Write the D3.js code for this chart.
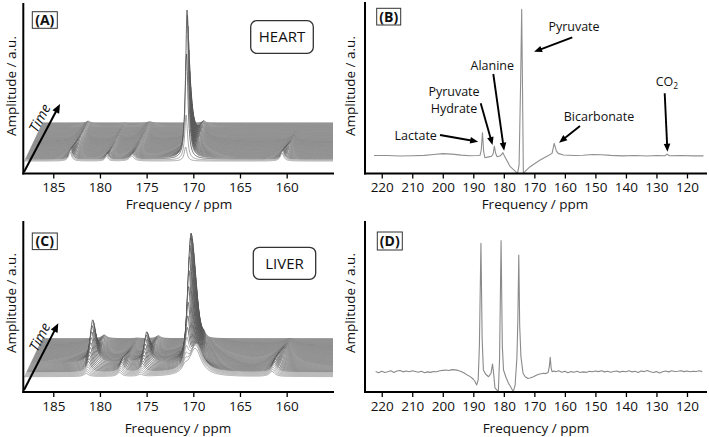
<!DOCTYPE html>
<html><head><meta charset="utf-8">
<script src="https://cdn.jsdelivr.net/npm/d3@7"></script>
<style>body{margin:0;background:#fff}svg{font-family:"Open Sans",sans-serif}</style>
</head><body><svg id="c" width="709" height="437"></svg>
<script>
// ---------------- DATA ----------------
const waterfallTicks = [185, 180, 175, 170, 165, 160];
const spectrumTicks = [220, 210, 200, 190, 180, 170, 160, 150, 140, 130, 120];

// Heart waterfall: peak centres (ppm), half-widths (ppm), amplitude per time step (front -> back)
const heartPeakPpm = [183.2, 179.3, 176.6, 170.82, 160.5];
const heartPeakHw = [0.2, 0.18, 0.3, 0.18, 0.22];
const heartLactate = [9,10,10.5,10.5,10,9.5,9,8.5,8,7.5,7,6.5,6,5.6,5.2,4.9,4.6,4.3,4,3.8,3.6,3.4,3.2,3,2.9,2.8,2.7,2.6,2.5,2.4,2.3,2.2,2.1,2,2,1.9,1.9,1.8,1.8,1.8];
const heartHydrate = [5,5.5,5.5,5,4.5,4,3.5,3.1,2.8,2.5,2.2,2,1.8,1.6,1.4,1.3,1.2,1.1,1,0.9,0.8,0.8,0.7,0.7,0.6,0.6,0.5,0.5,0.5,0.4,0.4,0.4,0.3,0.3,0.3,0.3,0.3,0.2,0.2,0.2];
const heartAlanine = [5,5.5,5.5,5,4.6,4.2,3.8,3.5,3.2,3,2.8,2.6,2.4,2.3,2.2,2.1,2,1.9,1.8,1.8,1.7,1.7,1.6,1.6,1.5,1.5,1.5,1.4,1.4,1.4,1.3,1.3,1.3,1.2,1.2,1.2,1.2,1.1,1.1,1.1];
const heartPyruvate = [14,45,105,148,142,130,117,104,92,81,71,63,56,49,43,38,33,29,26,23,20,18,16,14,12.5,11,10,9,8,7,6.3,5.6,5,4.5,4,3.6,3.2,2.9,2.6,2.3];
const heartBicarb = [8,9,9,8.5,8,7.5,7,6.5,6,5.5,5,4.5,4,3.5,3,2.6,2.2,1.8,1.5,1.2,1,0.8,0.6,0.5,0.4,0.3,0.2,0.2,0.1,0.1,0.1,0,0,0,0,0,0,0,0,0];

// Liver waterfall
const liverPeakPpm = [181.47, 177.9, 175.68, 170.9, 169.8, 161.56];
const liverPeakHw = [0.32, 0.3, 0.3, 0.3, 0.8, 0.35];
const liverLactate = [3,4,5,6.5,8,10,12,14.5,17,20,24,28,33,38,43,41,38,34,30,26,23,20,17.5,15,13,11.5,10,9,8,7.2,6.5,6,5.5,5.1,4.8,4.5,4.2,4,3.8,3.6];
const liverHydrate = [4,5,6,7,8,9,9.8,10.3,10.6,10.4,10,9.4,8.8,8.2,7.6,7,6.4,5.8,5.2,4.7,4.2,3.8,3.4,3,2.7,2.4,2.1,1.9,1.7,1.5,1.3,1.2,1.1,1,0.9,0.8,0.7,0.6,0.5,0.5];
const liverAlanine = [2,3,4,5,6,7.5,9,11,13,15.5,18,21,25,28,30.5,29,27,24,21,18.5,16,14,12,10.5,9,8,7,6.3,5.7,5.2,4.8,4.4,4.1,3.8,3.6,3.4,3.2,3,2.9,2.8];
const liverPyruvate = [5,8,12,18,26,36,48,62,78,94,108,119,126,130,129,126,122,117,111,105,98,91,84,77,70,63,56,50,44,39,34,30,26,23,20,17,15,13,11,10];
const liverEarly = [28,30,30,29,27,24,20,16,12,9,6,4,2.5,1.5,1,0.5,0.3,0.2,0.1,0,0,0,0,0,0,0,0,0,0,0,0,0,0,0,0,0,0,0,0,0];
const liverBicarb = [5,6,7,8,8.5,9,9.5,10,10,10,10,9.8,9.5,9.2,9,8.6,8.2,7.8,7.4,7,6.5,6,5.5,5,4.5,4,3.5,3,2.6,2.2,1.9,1.6,1.3,1.1,0.9,0.7,0.5,0.4,0.3,0.2];

// Heart single spectrum [ppm, amplitude]
const heartSpectrum = [[222.5,0.3],[218,0.3],[214,0],[210,0.2],[206,0.4],[203,1.0],[200,1.6],[197,1.3],[194,0.6],[191,0.2],[188.8,0.3],[187.8,0.5],[187.4,4],[187.0,15.9],[186.6,3],[186.2,-1.2],[185,-0.6],[184,-0.2],[183.5,1.5],[183.1,6.8],[182.7,2],[182.2,-0.5],[181.3,0],[180.7,1],[180.3,2.3],[179.8,0],[177.9,-7.3],[175.5,-11.8],[175,-6],[174.5,50],[174.15,100],[173.9,50],[173.6,-11.8],[173,-10.5],[171.4,-7.3],[168.1,-2.7],[165.4,0.3],[164.2,1.8],[163.5,8.6],[162.8,3.5],[162.2,1.8],[160.5,0.7],[157,0.3],[154,0.5],[151,1.0],[148,0.9],[145,0.4],[141,0.1],[137,0.3],[133,0],[130,0.3],[127.2,0.2],[126.5,1.3],[125.8,0.2],[122,0.3],[118,0.1],[114.6,0.1]];

// Liver single spectrum [ppm, amplitude]
const liverSpectrum = [[222,0.3],[221,-0.5],[220,0.6],[219,-0.4],[218,0.2],[217,0.9],[216,-0.3],[215,0.7],[214,1.2],[213,0.1],[212,0.8],[211,0.2],[210,1.0],[209,0.4],[208,-0.2],[207,0.5],[206,-0.6],[205,0.1],[204,-0.3],[203,0.4],[202,0.2],[201,0.9],[200,1.2],[199,1.5],[198,1.1],[197,1.8],[196,1.6],[195,1.2],[194,0.4],[193,-0.8],[192,-2.2],[191,-3.5],[190,-5.5],[189.5,-7],[188.9,-9.8],[188.4,-6],[188,20],[187.5,97.5],[187.1,25],[186.7,1.5],[186,-1.5],[185,-3.6],[184.2,-1],[183.7,6.1],[183.3,-2],[182.9,-12.1],[181.8,-14.9],[181.4,10],[180.9,99.5],[180.5,20],[180.1,1.5],[179.3,-4],[178.5,-8.3],[177.6,-12],[176.9,-14.9],[176.3,-10],[175.7,11.6],[175.4,40],[175.1,88.6],[174.8,35],[174.4,11.6],[173.7,-1],[173.0,-3.6],[172.2,-4.8],[171.4,-4.5],[170.3,-3.6],[169.2,-2.3],[168.2,-1.5],[167.0,-1],[166.2,-1.2],[165.5,-0.4],[165.1,4],[164.8,11.1],[164.5,3],[164.2,0.3],[163.5,0.8],[163,0.2],[162,0.9],[161,-0.2],[160,0.5],[159,-0.6],[158,0.3],[157,-0.2],[156,0.6],[155,-0.4],[154,0.1],[153,-0.3],[152,0.5],[151,0.2],[150,0.8],[149,0.3],[148,1.0],[147,0.1],[146,0.6],[145,-0.2],[144,0.4],[143,0.7],[142,-0.1],[141,0.5],[140,0.2],[139,0.9],[138,0.1],[137,0.6],[136,-0.3],[135,0.8],[134,0.3],[133,1.1],[132,0.2],[131,-0.4],[130,0.3],[129,-0.8],[128,0.2],[127,0.7],[126,0.1],[125,0.9],[124,0.4],[123,0.6],[122,1.0],[121,0.3],[120,0.8],[119,0.2],[118,0.6],[117,0.4],[116,0.9],[115,0.3]];

const annotationLabels = ["Pyruvate", "Alanine", "Pyruvate", "Hydrate", "Lactate", "Bicarbonate", "CO"];

// ---------------- DRAWING ----------------
const svg = d3.select("#c");
const N = heartPyruvate.length;
const AX = "#000";

function arrow(g, x1, y1, x2, y2, L = 8, W = 3.3, sw = 1.9) {
  const dx = x2 - x1, dy = y2 - y1, len = Math.hypot(dx, dy);
  const ux = dx / len, uy = dy / len;
  const bx = x2 - ux * L, by = y2 - uy * L;
  g.append("line").attr("x1", x1).attr("y1", y1).attr("x2", bx + ux * 1).attr("y2", by + uy * 1)
    .attr("stroke", "#000").attr("stroke-width", sw);
  g.append("path").attr("d", `M${x2},${y2}L${bx - uy * W},${by + ux * W}L${bx + uy * W},${by - ux * W}Z`).attr("fill", "#000");
}

function xAxisBottom(g, scale, ticks, y, x0, x1) {
  const ax = g.append("g").attr("transform", `translate(0,${y})`)
    .call(d3.axisBottom(scale).tickValues(ticks).tickSize(5).tickSizeOuter(0).tickPadding(4).tickFormat(d3.format("d")));
  ax.select(".domain").remove();
  ax.selectAll(".tick line").attr("stroke", AX).attr("stroke-width", 1.3);
  ax.selectAll(".tick text").attr("font-size", 13.5).attr("fill", "#111").attr("font-family", '"Open Sans",sans-serif');
  g.append("line").attr("x1", x0 - 1).attr("x2", x1).attr("y1", y).attr("y2", y).attr("stroke", AX).attr("stroke-width", 2);
}

function yAxisLine(g, x, y0, y1) {
  g.append("line").attr("x1", x).attr("x2", x).attr("y1", y0).attr("y2", y1).attr("stroke", AX).attr("stroke-width", 2);
}

function panelLabel(g, x, y, w, h, txt) {
  g.append("rect").attr("x", x).attr("y", y).attr("width", w).attr("height", h).attr("fill", "#fff").attr("stroke", "#333").attr("stroke-width", 1);
  g.append("text").attr("x", x + w / 2).attr("y", y + h / 2).attr("dy", "0.36em").attr("text-anchor", "middle")
    .attr("font-size", 14).attr("font-weight", "bold").attr("fill", "#111").text(txt);
}

function yLabel(g, x, y) {
  g.append("text").attr("transform", `translate(${x},${y}) rotate(-90)`).attr("text-anchor", "middle").attr("dy", "0.36em")
    .attr("font-size", 13.5).attr("fill", "#111").text("Amplitude / a.u.");
}
function xLabel(g, x, y) {
  g.append("text").attr("x", x).attr("y", y).attr("text-anchor", "middle").attr("dy", "0.36em")
    .attr("font-size", 13.5).attr("fill", "#111").text("Frequency / ppm");
}

function organBox(g, x, y, w, h, txt) {
  g.append("rect").attr("x", x).attr("y", y).attr("width", w).attr("height", h).attr("rx", 6)
    .attr("fill", "#fff").attr("stroke", "#333").attr("stroke-width", 1.3);
  g.append("text").attr("x", x + w / 2).attr("y", y + h / 2).attr("dy", "0.36em").attr("text-anchor", "middle")
    .attr("font-size", 15).attr("fill", "#111").text(txt);
}

function timeArrow(g, x1, y1, x2, y2, tx, ty) {
  arrow(g, x1, y1, x2, y2, 9, 3.8, 2);
  const ang = Math.atan2(y2 - y1, x2 - x1) * 180 / Math.PI;
  g.append("text").attr("transform", `translate(${tx},${ty}) rotate(${ang})`).attr("text-anchor", "middle").attr("dy", "0.36em")
    .attr("font-size", 14).attr("font-style", "italic").attr("fill", "#111").text("Time");
}

function waterfall(g, id, ppms, hws, amps, frontY, axisY, x, nLight) {
  const clipId = "clip" + id;
  svg.append("defs").append("clipPath").attr("id", clipId)
    .append("rect").attr("x", 0).attr("y", axisY - 220).attr("width", 333).attr("height", 220);
  const wg = g.append("g").attr("clip-path", `url(#${clipId})`);
  const grid = d3.range(188.1, 154.4, -0.04);
  const dxStep = 18 / (N - 1), dyStep = 38 / (N - 1);
  const h = d3.scaleLinear().domain([0, 100]).range([0, 100]);
  for (let i = N - 1; i >= 0; i--) {
    const base = frontY - i * dyStep, off = i * dxStep;
    const pts = grid.map(p => {
      let s = 0;
      for (let k = 0; k < ppms.length; k++) {
        const u = (p - ppms[k]) / hws[k];
        s += amps[k][i] / (1 + u * u);
      }
      return [x(p) + off, base - h(s)];
    });
    wg.append("path").attr("d", d3.area().x(d => d[0]).y0(base).y1(d => d[1])(pts)).attr("fill", "#fff");
    const shade = i < nLight ? "#8a8a8a" : "#454545";
    wg.append("path").attr("d", d3.line()(pts)).attr("fill", "none").attr("stroke", shade).attr("stroke-width", 0.75);
  }
}

// ---------- Panel A ----------
const xW = d3.scaleLinear().domain([188.21, 154.93]).range([23.3, 334]);
const gA = svg.append("g");
waterfall(gA, "A", heartPeakPpm, heartPeakHw, [heartLactate, heartHydrate, heartAlanine, heartPyruvate, heartBicarb], 161, 173.5, xW, 2);
yAxisLine(gA, 23.3, 3, 174.5);
xAxisBottom(gA, xW, waterfallTicks, 173.5, 23.3, 334);
timeArrow(gA, 24, 172, 60, 104, 39.5, 118);
panelLabel(gA, 32.3, 11.7, 25, 16.6, "(A)");
organBox(gA, 250.7, 20.7, 62.6, 32.6, "HEART");
yLabel(gA, 11.5, 86);
xLabel(gA, 179, 204.5);

// ---------- Panel C ----------
const gC = svg.append("g");
waterfall(gC, "C", liverPeakPpm, liverPeakHw, [liverLactate, liverHydrate, liverAlanine, liverPyruvate, liverEarly, liverBicarb], 376.7, 392, xW, 5);
yAxisLine(gC, 23.3, 221, 393);
xAxisBottom(gC, xW, waterfallTicks, 392, 23.3, 334);
timeArrow(gC, 24, 390, 58.3, 323.3, 39.5, 337);
panelLabel(gC, 32.3, 233, 25, 16.6, "(C)");
organBox(gC, 253.3, 247.3, 62.4, 32, "LIVER");
yLabel(gC, 11.5, 303);
xLabel(gC, 178, 428.5);

// ---------- Panel B ----------
const xS = d3.scaleLinear().domain([225.48, 113.44]).range([365, 707]);
const yB = d3.scaleLinear().domain([0, 100]).range([156, 9.3]);
const gB = svg.append("g");
gB.append("path").datum(heartSpectrum).attr("d", d3.line().x(d => xS(d[0])).y(d => yB(d[1])))
  .attr("fill", "none").attr("stroke", "#8f8f8f").attr("stroke-width", 1.1).attr("stroke-linejoin", "round");
yAxisLine(gB, 365, 2, 174.5);
xAxisBottom(gB, xS, spectrumTicks, 173.5, 365, 707);
panelLabel(gB, 376.7, 8.3, 24, 16.7, "(B)");
yLabel(gB, 350.5, 86);
xLabel(gB, 535, 204.5);

function annText(g, x, y, t) {
  return g.append("text").attr("x", x).attr("y", y).attr("dy", "0.36em").attr("text-anchor", "middle")
    .attr("font-size", 12.5).attr("fill", "#111").text(t);
}
// Pyruvate
annText(gB, 574, 26.7, annotationLabels[0]);
arrow(gB, 572.3, 37.3, xS(170.1), yB(71));
// Alanine
annText(gB, 492.3, 65, annotationLabels[1]);
arrow(gB, 493.3, 74, xS(179.9), yB(3.6));
// Pyruvate Hydrate
annText(gB, 454, 91.7, annotationLabels[2]);
annText(gB, 454, 108.3, annotationLabels[3]);
arrow(gB, 480.7, 103.3, xS(183.7), yB(7.5));
// Lactate
annText(gB, 415.7, 135, annotationLabels[4]);
arrow(gB, 440, 135, xS(188.4), yB(9.7));
// Bicarbonate
annText(gB, 599, 116.7, annotationLabels[5]);
arrow(gB, 580, 126, xS(161.9), yB(9.1));
// CO2
const co = annText(gB, 667, 81.7, annotationLabels[6]);
co.append("tspan").attr("font-size", 8.5).attr("dy", "0.35em").text("2");
arrow(gB, 664.7, 93.3, xS(126.4), yB(2.9));

// ---------- Panel D ----------
const yD = d3.scaleLinear().domain([0, 100]).range([372, 240]);
const gD = svg.append("g");
gD.append("path").datum(liverSpectrum).attr("d", d3.line().x(d => xS(d[0])).y(d => yD(d[1])))
  .attr("fill", "none").attr("stroke", "#8a8a8a").attr("stroke-width", 1.1).attr("stroke-linejoin", "round");
yAxisLine(gD, 365, 221, 393);
xAxisBottom(gD, xS, spectrumTicks, 392, 365, 707);
panelLabel(gD, 377.3, 232, 25, 18, "(D)");
yLabel(gD, 350.5, 303);
xLabel(gD, 536, 428.5);
</script></body></html>
